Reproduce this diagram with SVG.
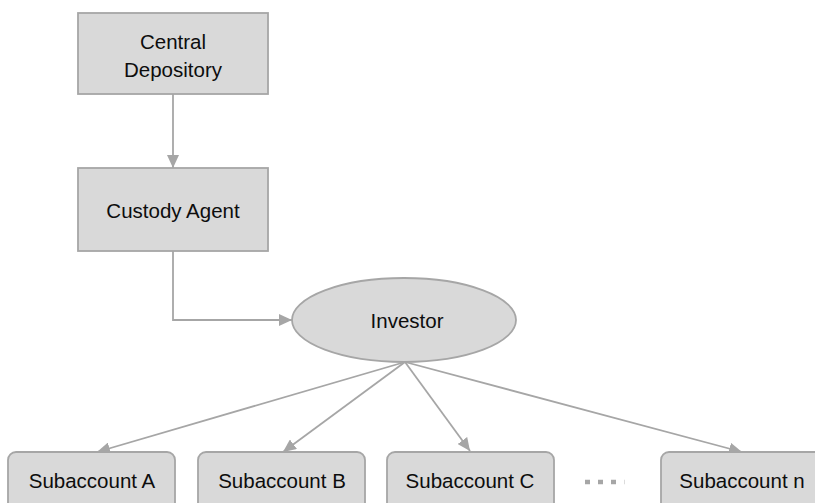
<svg xmlns="http://www.w3.org/2000/svg" width="815" height="503" viewBox="0 0 815 503">
<style>
.box{fill:#d9d9d9;stroke:#a6a6a6;stroke-width:1.8}
.lbl{font-family:"Liberation Sans",Arial,sans-serif;font-size:20.5px;fill:#0d0d0d;text-anchor:middle}
.con{fill:none;stroke:#a6a6a6;stroke-width:1.8}
</style>
<defs>
<marker id="ah" markerUnits="userSpaceOnUse" markerWidth="14" markerHeight="12" refX="13" refY="6" orient="auto">
<path d="M0,0 L13,6 L0,12 z" fill="#a6a6a6"/>
</marker>
</defs>
<rect width="815" height="503" fill="#ffffff"/>
<g id="connectors">
<path class="con" d="M173,94 V168" marker-end="url(#ah)"/>
<path class="con" d="M173,251 V320 H292" marker-end="url(#ah)"/>
<path class="con" d="M405,362 L97,452" marker-end="url(#ah)"/>
<path class="con" d="M405,362 L283,452" marker-end="url(#ah)"/>
<path class="con" d="M405,362 L470,451" marker-end="url(#ah)"/>
<path class="con" d="M405,362 L742,452" marker-end="url(#ah)"/>
</g>
<g id="central-depository">
<rect class="box" x="78" y="13" width="190" height="81"/>
<text class="lbl" x="173" y="49">Central</text>
<text class="lbl" x="173" y="77">Depository</text>
</g>
<g id="custody-agent">
<rect class="box" x="78" y="168" width="190" height="83"/>
<text class="lbl" x="173" y="218">Custody Agent</text>
</g>
<g id="investor">
<ellipse class="box" cx="404" cy="320" rx="112" ry="42"/>
<text class="lbl" x="407" y="328">Investor</text>
</g>
<g id="subaccount-a">
<rect class="box" x="8" y="452" width="167" height="70" rx="8"/>
<text class="lbl" x="92" y="488">Subaccount A</text>
</g>
<g id="subaccount-b">
<rect class="box" x="198" y="452" width="167" height="70" rx="8"/>
<text class="lbl" x="282" y="488">Subaccount B</text>
</g>
<g id="subaccount-c">
<rect class="box" x="387" y="452" width="167" height="70" rx="8"/>
<text class="lbl" x="470" y="488">Subaccount C</text>
</g>
<g id="ellipsis">
<line x1="585" y1="482" x2="618" y2="482" stroke="#a6a6a6" stroke-width="4.5" stroke-dasharray="5,8"/>
<line x1="624" y1="482" x2="625" y2="482" stroke="#dcdcdc" stroke-width="4.5"/>
</g>
<g id="subaccount-n">
<rect class="box" x="661" y="452" width="167" height="70" rx="8"/>
<text class="lbl" x="742" y="488">Subaccount n</text>
</g>
</svg>
